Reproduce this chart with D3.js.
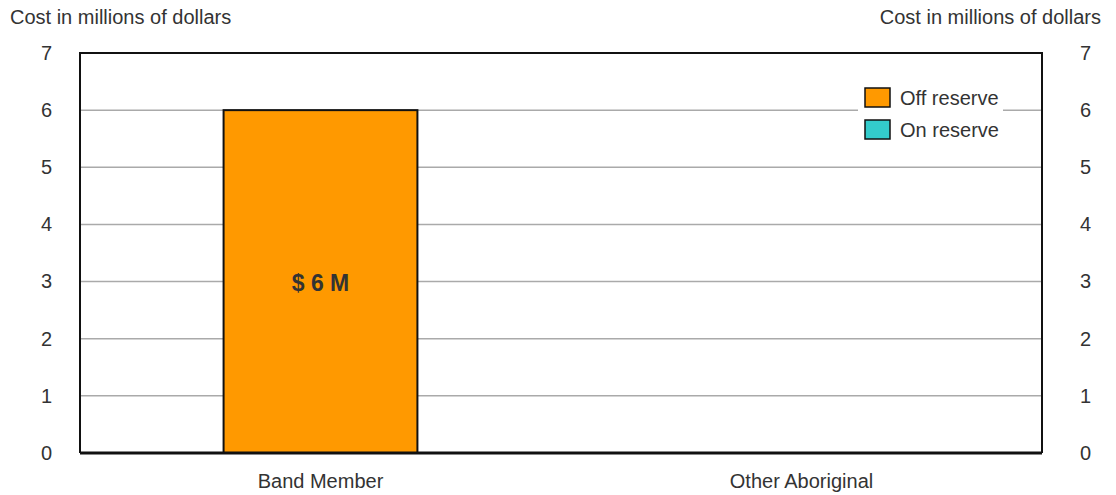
<!DOCTYPE html>
<html><head><meta charset="utf-8">
<script src="https://cdn.jsdelivr.net/npm/d3@7"></script>
<style>body{margin:0;background:#fff}svg text{font-family:"Liberation Sans Narrow","Liberation Sans",sans-serif !important;font-stretch:condensed;fill:#333}</style>
</head><body><svg id="c" width="1116" height="495"></svg>
<script>
const categories = ["Band Member", "Other Aboriginal"];
const seriesNames = ["Off reserve", "On reserve"];
const offReserve = [6, 0];
const onReserve = [0, 0];
const barLabels = ["$ 6 M", ""];
const yTicks = [0, 1, 2, 3, 4, 5, 6, 7];
const colors = ["#ff9900", "#33cccc"];
const axisTitle = "Cost in millions of dollars";

const svg = d3.select("#c");
const L = 80, R = 1042, T = 53, B = 453;
const x = d3.scaleBand().domain(categories).range([L, R]).paddingInner(0.597).paddingOuter(0.2985);
const y = d3.scaleLinear().domain([0, 7]).range([B, T]);

const rows = categories.map((c, i) => ({cat: c, "Off reserve": offReserve[i], "On reserve": onReserve[i], label: barLabels[i]}));
const stacked = d3.stack().keys(seriesNames)(rows);

// gridlines
svg.append("g").selectAll("line").data(yTicks.filter(t => t > 0 && t < 7)).join("line")
  .attr("x1", L).attr("x2", R).attr("y1", d => y(d)).attr("y2", d => y(d))
  .attr("stroke", "#aaa").attr("stroke-width", 1.5);

// bars
stacked.forEach((s, si) => {
  svg.append("g").selectAll("rect").data(s.filter(d => d[1] - d[0] > 0)).join("rect")
    .attr("x", d => x(d.data.cat)).attr("width", x.bandwidth())
    .attr("y", d => y(d[1])).attr("height", d => y(d[0]) - y(d[1]))
    .attr("fill", colors[si]).attr("stroke", "#111").attr("stroke-width", 2);
});

// bar labels
svg.append("g").selectAll("text").data(rows.filter(r => r.label)).join("text")
  .attr("x", d => x(d.cat) + x.bandwidth() / 2)
  .attr("y", d => (y(d["Off reserve"] + d["On reserve"]) + y(0)) / 2 + 1)
  .attr("dy", "0.35em").attr("text-anchor", "middle")
  .attr("font-size", 23).attr("font-weight", "bold").text(d => d.label);

// frame
svg.append("path").attr("d", `M${L},${B}V${T}H${R}V${B}`).attr("fill", "none").attr("stroke", "#111").attr("stroke-width", 2);
svg.append("line").attr("x1", L).attr("x2", R).attr("y1", B).attr("y2", B).attr("stroke", "#111").attr("stroke-width", 3);

// axes
const yl = d3.axisLeft(y).tickValues(yTicks).tickFormat(d3.format("d")).tickSize(0).tickPadding(28);
const gl = svg.append("g").attr("transform", `translate(${L},0)`).call(yl);
const yr = d3.axisRight(y).tickValues(yTicks).tickFormat(d3.format("d")).tickSize(0).tickPadding(38);
const gr = svg.append("g").attr("transform", `translate(${R},0)`).call(yr);
[gl, gr].forEach(g => { g.select(".domain").remove(); g.selectAll("text").attr("font-size", 20).attr("fill", "#333"); });

const xa = d3.axisBottom(x).tickSize(0).tickPadding(21);
const gx = svg.append("g").attr("transform", `translate(0,${B})`).call(xa);
gx.select(".domain").remove();
gx.selectAll("text").attr("font-size", 20).attr("fill", "#333");

// axis titles
svg.append("text").attr("x", 10).attr("y", 24).attr("font-size", 20).text(axisTitle);
svg.append("text").attr("x", 1101).attr("y", 24).attr("text-anchor", "end").attr("font-size", 20).text(axisTitle);

// legend
const lg = svg.append("g").attr("transform", "translate(858,84)");
lg.append("rect").attr("x", 0).attr("y", 0).attr("width", 145).attr("height", 58).attr("fill", "#fff");
seriesNames.forEach((n, i) => {
  lg.append("rect").attr("x", 7).attr("y", 4 + i * 32).attr("width", 25).attr("height", 19)
    .attr("fill", colors[i]).attr("stroke", "#111").attr("stroke-width", 1.5);
  lg.append("text").attr("x", 42).attr("y", 14 + i * 32).attr("dy", "0.35em").attr("font-size", 20).text(n);
});
</script></body></html>
